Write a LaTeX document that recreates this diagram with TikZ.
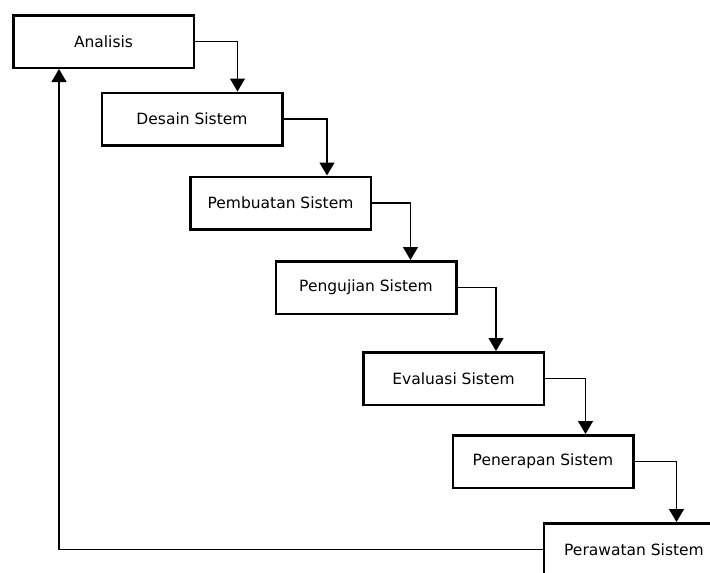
\documentclass[tikz,border=0pt]{standalone}
\usepackage{fontspec}
\setmainfont{DejaVu Sans}
\usetikzlibrary{arrows.meta}
\begin{document}
\begin{tikzpicture}[x=1pt,y=-1pt,
  stagebox/.style={draw=black, line width=2.5pt, fill=white, minimum width=180.5pt, minimum height=52.5pt, inner sep=0pt, font=\fontsize{15.5}{18}\selectfont},
  flow/.style={line width=1.2pt, -{Triangle[width=15pt,length=13pt]}}]
\useasboundingbox (0,0) rectangle (710,573);
\clip (0,0) rectangle (710,573);
\fill[white] (0,0) rectangle (710,573);
\node[stagebox] (a) at (103.5,41.5) {Analisis};
\node[stagebox] (b) at (192,119) {Desain Sistem};
\node[stagebox] (c) at (280.5,203) {Pembuatan Sistem};
\node[stagebox] (d) at (366,287.5) {Pengujian Sistem};
\node[stagebox] (e) at (453.5,378.5) {Evaluasi Sistem};
\node[stagebox] (f) at (543,461.5) {Penerapan Sistem};
\node[stagebox] (g) at (634,549.5) {Perawatan Sistem};
\draw[flow] (a.east) -| ([xshift=137]b.north west);
\draw[flow] (b.east) -| ([xshift=138]c.north west);
\draw[flow] (c.east) -| ([xshift=136]d.north west);
\draw[flow] (d.east) -| ([xshift=134]e.north west);
\draw[flow] (e.east) -| ([xshift=134]f.north west);
\draw[flow] (f.east) -| ([xshift=134]g.north west);
\draw[flow] (g.west) -| ([xshift=47]a.south west);
\end{tikzpicture}
\end{document}
